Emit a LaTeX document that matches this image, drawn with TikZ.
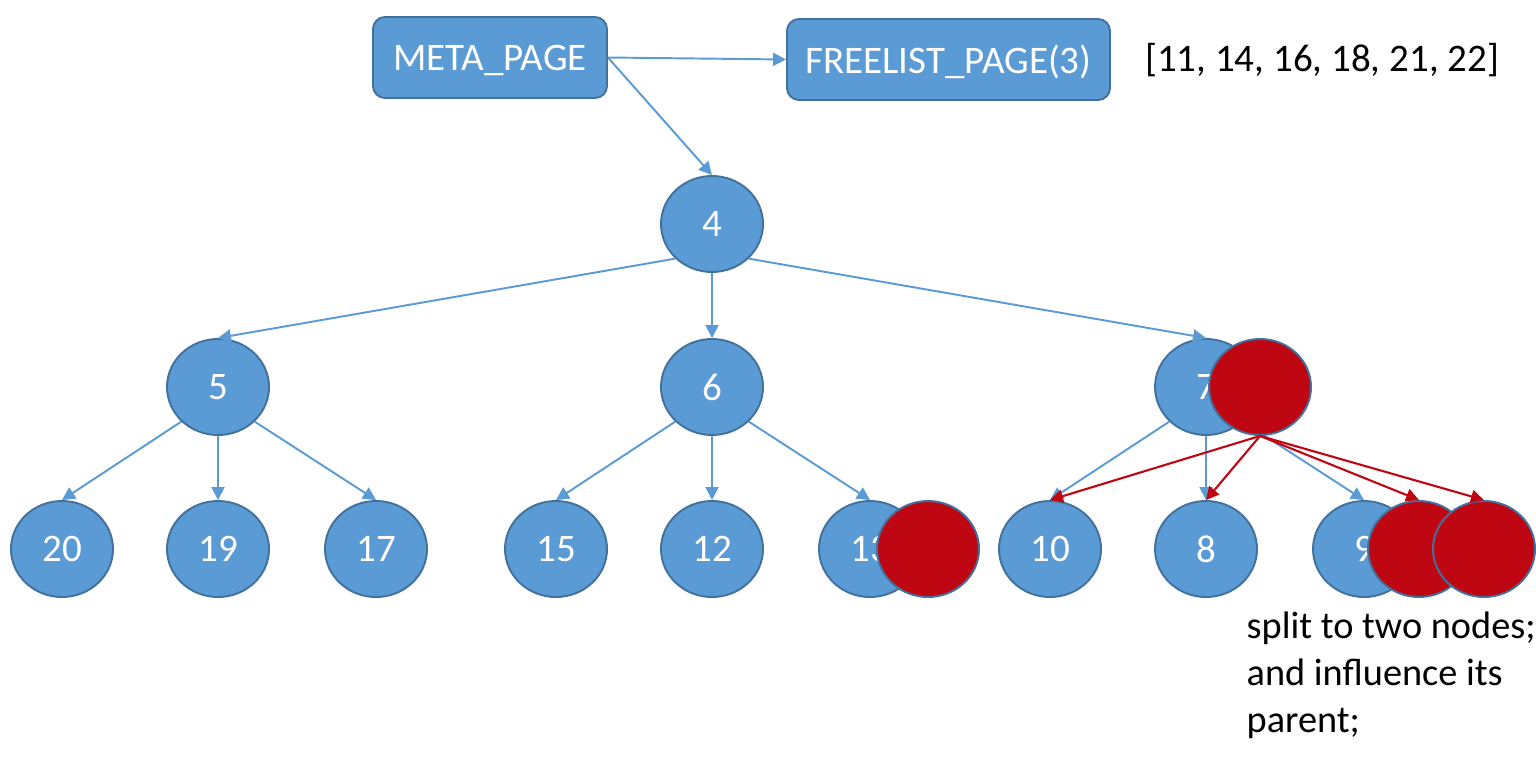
\documentclass[tikz,border=0pt]{standalone}
\usepackage{fontspec}
\setmainfont{Carlito}
\usetikzlibrary{arrows.meta,shapes.geometric}
\definecolor{pageblue}{HTML}{5B9BD5}
\definecolor{pageedge}{HTML}{41719C}
\definecolor{splitred}{HTML}{BF0713}
\def\labelfont{\fontsize{11.1}{13.4}\selectfont}
\def\notefont{\fontsize{10.9}{13.4}\selectfont}
\tikzset{
  pagenode/.style={ellipse, draw=pageedge, fill=pageblue, line width=0.55pt,
    minimum width=1.02cm, minimum height=0.96cm, inner sep=0pt, text=white, font=\labelfont},
  splitnode/.style={pagenode, fill=splitred},
  metanode/.style={rectangle, rounded corners=0.12cm, draw=pageedge, fill=pageblue,
    line width=0.55pt, minimum height=0.81cm, inner sep=0pt, text=white, font=\labelfont,
    text depth=0pt},
  link/.style={draw=pageblue, line width=0.55pt, -{Triangle[length=0.13cm,width=0.13cm]}},
  splitlink/.style={draw=splitred, line width=0.6pt, -{Triangle[length=0.13cm,width=0.13cm]}}
}

\begin{document}
\begin{tikzpicture}
\useasboundingbox (0,0) rectangle (15.36,-7.68);

% meta and freelist pages
\node[metanode, minimum width=2.34cm] (meta) at (4.90,-0.575) {META\_PAGE};
\node[metanode, minimum width=3.23cm] (freelist) at (9.485,-0.595) {FREELIST\_PAGE(3)};
\node[font=\labelfont] (freepages) at (13.22,-0.60) {[11, 14, 16, 18, 21, 22]};

% tree pages
\node[pagenode] (p4) at (7.12,-2.24) {4};
\node[pagenode] (p5) at (2.18,-3.87) {5};
\node[pagenode] (p6) at (7.12,-3.87) {6};
\node[pagenode] (p7) at (12.06,-3.87) {7};
\node[pagenode] (p20) at (0.62,-5.49) {20};
\node[pagenode] (p19) at (2.18,-5.49) {19};
\node[pagenode] (p17) at (3.76,-5.49) {17};
\node[pagenode] (p15) at (5.56,-5.49) {15};
\node[pagenode] (p12) at (7.12,-5.49) {12};
\node[pagenode] (p13) at (8.70,-5.49) {13};
\node[pagenode] (p10) at (10.50,-5.49) {10};
\node[pagenode] (p8) at (12.06,-5.49) {8};
\node[pagenode] (p9) at (13.64,-5.49) {9};

\draw[link] (meta.east) -- (freelist.west);
\draw[link] (meta.east) -- (p4.north);
\draw[link] (p4.south west) -- (p5.north);
\draw[link] (p4.south) -- (p6.north);
\draw[link] (p4.south east) -- (p7.north);
\draw[link] (p5.south west) -- (p20.north);
\draw[link] (p5.south) -- (p19.north);
\draw[link] (p5.south east) -- (p17.north);
\draw[link] (p6.south west) -- (p15.north);
\draw[link] (p6.south) -- (p12.north);
\draw[link] (p6.south east) -- (p13.north);
\draw[link] (p7.south west) -- (p10.north);
\draw[link] (p7.south) -- (p8.north);
\draw[link] (p7.south east) -- (p9.north);

% split pages
\node[splitnode] (s7) at (12.60,-3.87) {};
\node[splitnode] (s13) at (9.28,-5.49) {};
\node[splitnode] (s9a) at (14.19,-5.49) {};
\node[splitnode] (s9b) at (14.84,-5.49) {};

\draw[splitlink] (s7.south) -- (p10.north);
\draw[splitlink] (s7.south) -- (p8.north);
\draw[splitlink] (s7.south) -- (s9a.north);
\draw[splitlink] (s7.south) -- (s9b.north);

\node[font=\notefont, align=left, anchor=north west, inner sep=0pt] (note) at (12.46,-6.11)
  {split to two nodes;\\and influence its\\parent;};
\end{tikzpicture}
\end{document}
